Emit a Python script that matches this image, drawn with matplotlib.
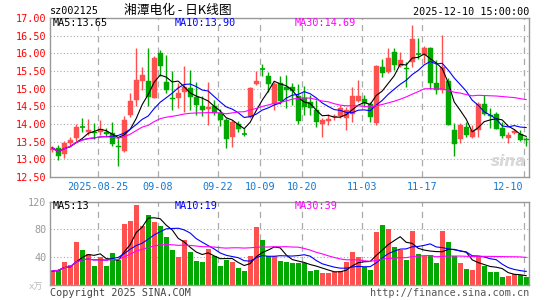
import numpy as np
import pandas as pd
import matplotlib
matplotlib.use("Agg")
import matplotlib.pyplot as plt
from matplotlib.patches import Rectangle

# ---------------- data ----------------
opens = [13.26, 13.31, 13.14, 13.45, 13.59, 13.93, 13.78, 13.78, 13.78, 13.76,
         13.74, 13.38, 13.25, 14.25, 14.68, 15.23, 15.22, 14.75, 16.01, 15.20,
         14.73, 14.73, 14.90, 15.03, 14.77, 14.52, 14.43, 14.52, 14.30, 14.11,
         13.62, 14.00, 13.73, 14.21, 15.13, 15.57, 15.37, 14.58, 15.15, 15.05,
         15.05, 14.80, 14.73, 14.61, 14.40, 13.99, 14.09, 14.19, 14.24, 14.16,
         14.27, 14.65, 14.71, 14.56, 14.02, 15.62, 15.48, 16.03, 15.63, 15.59,
         15.75, 16.00, 15.96, 16.15, 15.17, 14.95, 15.22, 13.83, 13.58, 13.92,
         13.64, 13.83, 14.56, 14.25, 14.27, 13.88, 13.61, 13.74, 13.72, 13.58]
highs = [13.39, 13.41, 13.52, 13.64, 13.99, 14.18, 14.14, 14.02, 14.11, 13.88,
         14.07, 13.64, 14.23, 14.89, 16.14, 15.60, 16.14, 15.93, 16.10, 15.96,
         15.49, 15.15, 15.65, 15.53, 15.20, 14.78, 15.20, 14.68, 14.42, 14.16,
         14.12, 14.09, 13.90, 15.06, 15.50, 15.69, 15.48, 15.20, 15.35, 15.40,
         15.15, 15.13, 15.08, 14.83, 14.68, 14.16, 14.27, 14.28, 14.54, 14.49,
         15.06, 15.25, 14.82, 14.63, 15.67, 15.84, 16.14, 16.16, 16.05, 15.75,
         16.80, 16.42, 16.20, 16.18, 15.80, 16.51, 15.30, 14.02, 14.02, 14.06,
         13.97, 14.61, 14.82, 14.44, 14.35, 14.05, 13.77, 13.86, 13.83, 13.64]
lows = [13.22, 12.98, 13.05, 13.36, 13.52, 13.76, 13.69, 13.58, 13.69, 13.64,
        13.39, 12.82, 13.20, 14.21, 14.50, 14.97, 14.50, 14.73, 15.35, 14.87,
        14.40, 14.45, 14.33, 14.40, 14.25, 14.22, 13.97, 14.25, 13.95, 13.33,
        13.36, 13.76, 13.67, 14.16, 15.09, 15.37, 14.90, 14.40, 14.58, 14.45,
        14.55, 14.01, 14.25, 14.25, 13.92, 13.64, 13.97, 14.10, 14.17, 13.83,
        14.07, 14.61, 14.48, 14.06, 13.97, 15.34, 15.43, 15.53, 15.60, 15.06,
        15.60, 15.85, 15.72, 14.98, 14.85, 14.88, 13.96, 13.10, 13.46, 13.62,
        13.61, 13.64, 14.25, 13.88, 13.85, 13.60, 13.45, 13.73, 13.52, 13.39]
closes = [13.33, 13.10, 13.47, 13.55, 13.92, 13.91, 13.83, 13.74, 13.86, 13.72,
          13.42, 13.35, 14.11, 14.65, 15.25, 15.39, 14.77, 15.86, 15.65, 14.97,
          14.70, 14.89, 15.06, 14.77, 14.54, 14.40, 14.49, 14.30, 14.12, 13.58,
          14.07, 13.86, 13.71, 15.03, 15.22, 15.55, 15.12, 15.13, 14.65, 14.97,
          14.92, 14.08, 14.49, 14.44, 14.05, 14.11, 14.14, 14.23, 14.44, 14.40,
          14.80, 14.80, 14.59, 14.19, 15.65, 15.43, 15.88, 15.67, 15.82, 15.55,
          16.41, 15.98, 16.15, 15.15, 14.95, 15.62, 13.98, 13.42, 13.97, 13.69,
          13.83, 14.56, 14.28, 14.22, 13.86, 13.66, 13.68, 13.80, 13.56, 13.55]
volumes = [20, 22, 33, 29, 62, 51, 44, 27, 40, 28,
           46, 36, 88, 92, 115, 85, 101, 90, 85, 69,
           51, 40, 64, 47, 35, 33, 52, 42, 27, 36,
           33, 24, 20, 41, 84, 64, 42, 42, 35, 33,
           31, 31, 32, 20, 22, 17, 17, 19, 20, 33,
           48, 40, 26, 22, 76, 86, 80, 55, 50, 36,
           78, 45, 42, 43, 32, 77, 62, 42, 32, 23,
           22, 42, 28, 18, 18, 12, 13, 16, 15, 11]

start_date = "2025-08-13"
end_date = "2025-12-10"
holidays = ["2025-10-01", "2025-10-02", "2025-10-03", "2025-10-06", "2025-10-07", "2025-10-08"]
tick_dates = ["2025-08-25", "2025-09-08", "2025-09-22", "2025-10-09",
              "2025-10-20", "2025-11-03", "2025-11-17", "2025-12-10"]
price_ticks = [17.00, 16.50, 16.00, 15.50, 15.00, 14.50, 14.00, 13.50, 13.00, 12.50]
vol_ticks = [120, 80, 40]
ma_periods = [5, 10, 30]
ma_colors = ["#000000", "#0000FF", "#FF00FF"]

stock_code = "sz002125"
title = "湘潭电化 - 日K线图"
timestamp = "2025-12-10 15:00:00"

# ---------------- derived ----------------
dates = [d.strftime("%Y-%m-%d") for d in pd.bdate_range(start_date, end_date)
         if d.strftime("%Y-%m-%d") not in holidays]
n = len(closes)
x = np.arange(n)
o = np.array(opens); h = np.array(highs); l = np.array(lows); c = np.array(closes)
v = np.array(volumes, dtype=float)

RED = "#FF5050"
GREEN = "#00A800"
GRID = "#AAAAAA"
FRAME = "#999999"
MONO = "DejaVu Sans Mono"
FS = 7.3

W, H = 545, 300
fig = plt.figure(figsize=(W / 100, H / 100), dpi=100)
fig.patch.set_facecolor("white")


def ax_px(left, top, right, bottom):
    return fig.add_axes([left / W, 1 - bottom / H, (right - left) / W, (bottom - top) / H])


ax = ax_px(50, 18, 529, 177)
axv = ax_px(50, 201.5, 529, 285)

slot = 6.0  # pixels per candle
x_left = -(52.2 - 50) / slot
x_right = x_left + 479 / slot

for a in (ax, axv):
    a.set_xlim(x_left, x_right)
    a.set_xticks([])
    for s in a.spines.values():
        s.set_color(FRAME)
        s.set_linewidth(1.0)
    a.tick_params(axis="y", length=0, pad=2.5)

ax.set_ylim(price_ticks[-1], price_ticks[0])
axv.set_ylim(0, vol_ticks[0])

# grid
for p in price_ticks[1:-1]:
    ax.axhline(p, color=GRID, lw=0.8, ls=(0, (1, 2)), zorder=0)
for vt in vol_ticks[1:]:
    axv.axhline(vt, color=GRID, lw=0.8, ls=(0, (1, 2)), zorder=0)
tick_idx = [dates.index(d) for d in tick_dates]
for ti in tick_idx:
    for a in (ax, axv):
        a.axvline(ti - 0.35, color=GRID, lw=0.9, ls=(0, (5, 4)), zorder=0)

# y labels
ax.set_yticks(price_ticks)
ax.set_yticklabels([f"{p:.2f}" for p in price_ticks], color="#FF0000",
                   fontfamily=MONO, fontsize=FS)
axv.set_yticks(vol_ticks)
axv.set_yticklabels([str(t) for t in vol_ticks], color="#999999",
                    fontfamily=MONO, fontsize=FS)

# candles
bw = 0.8
for i in x:
    up = c[i] >= o[i]
    col = RED if up else GREEN
    ax.vlines(i, l[i], h[i], color=col, lw=1.0, zorder=2)
    lo_b = min(o[i], c[i]); hi_b = max(o[i], c[i])
    if hi_b - lo_b < 0.02:
        ax.hlines((lo_b + hi_b) / 2, i - bw / 2, i + bw / 2, color=col, lw=1.2, zorder=3)
    else:
        ax.add_patch(Rectangle((i - bw / 2, lo_b), bw, hi_b - lo_b, facecolor=col,
                               edgecolor=col, lw=0.3, zorder=3))
    axv.bar(i, v[i], width=bw, color=col, zorder=2, linewidth=0)

# moving averages
cs = pd.Series(c); vs = pd.Series(v)
price_ma = {}
vol_ma = {}
for per, col in zip(ma_periods, ma_colors):
    pm = cs.rolling(per, min_periods=1).mean()
    vm = vs.rolling(per, min_periods=1).mean()
    price_ma[per] = pm
    vol_ma[per] = vm
    ax.plot(x, pm, color=col, lw=0.8, zorder=4)
    axv.plot(x, vm, color=col, lw=0.8, zorder=4)

# MA labels
label_x = [3, 125, 245]  # pixel offset from left border
for (per, col, lx) in zip(ma_periods, ma_colors, label_x):
    ax.text(lx / 479, 1 - 5.5 / 159, f"MA{per}:{price_ma[per].iloc[-1] + 1e-9:.2f}",
            transform=ax.transAxes, color=col, fontfamily=MONO, fontsize=FS,
            ha="left", va="center", zorder=6)
    axv.text(lx / 479, 1 - 4.5 / 83.5, f"MA{per}:{int(vol_ma[per].iloc[-1])}",
             transform=axv.transAxes, color=col, fontfamily=MONO, fontsize=FS,
             ha="left", va="center", zorder=6)

# x tick labels
xlab_y = -(186.5 - 177) / 159
for k, (ti, d) in enumerate(zip(tick_idx, tick_dates)):
    lab = d if k == 0 else d[5:]
    if k == len(tick_dates) - 1:
        ax.text(1 - 6 / 479, xlab_y, lab, transform=ax.transAxes, ha="right",
                va="center", color="#1478D2", fontfamily=MONO, fontsize=FS)
    else:
        ax.text(ti - 0.35, xlab_y, lab, transform=ax.get_xaxis_transform(),
                ha="center", va="center", color="#1478D2", fontfamily=MONO,
                fontsize=FS, clip_on=False)

# header texts
fig.text(50 / W, 1 - 11.5 / H, stock_code, fontfamily=MONO, fontsize=FS,
         color="#000000", ha="left", va="center")
fig.text(178 / W, 1 - 10.5 / H, title, fontfamily=["Noto Sans CJK SC", "DejaVu Sans"],
         fontsize=9.2, color="#000000", ha="center", va="center")
fig.text(529 / W, 1 - 12 / H, timestamp, fontfamily=MONO, fontsize=FS,
         color="#000000", ha="right", va="center")

# footer texts
fig.text(50 / W, 1 - 292.5 / H, "Copyright 2025 SINA.COM", fontfamily=MONO,
         fontsize=FS, color="#444444", ha="left", va="center")
fig.text(529 / W, 1 - 292.5 / H, "http://finance.sina.com.cn", fontfamily=MONO,
         fontsize=FS, color="#555555", ha="right", va="center")
fig.text(36 / W, 1 - 287 / H, "x万", fontfamily=[MONO, "Noto Sans CJK SC"],
         fontsize=6.5, color="#BBBBBB", ha="center", va="center")

# watermark
ax.text(0.995, 0.1, "sina", transform=ax.transAxes, ha="right", va="center",
        fontsize=11, fontweight="bold", fontstyle="italic", color="#D8D8D8",
        fontfamily="DejaVu Sans", zorder=1)

fig.savefig("out.png", dpi=100, facecolor="white")
